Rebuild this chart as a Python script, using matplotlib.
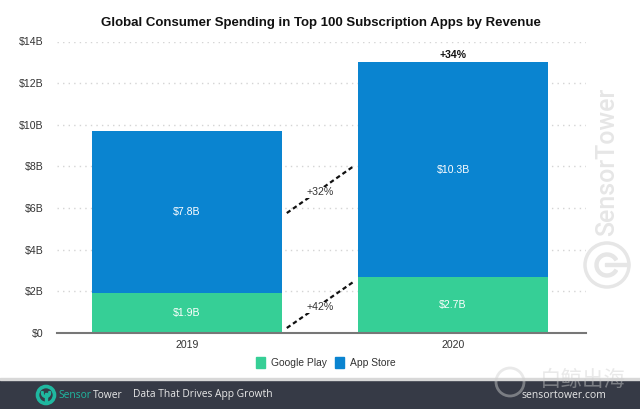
import matplotlib
matplotlib.use("Agg")
import matplotlib.pyplot as plt
from matplotlib.patches import Circle, Rectangle, Wedge

years = ["2019", "2020"]
google_play = [1.9, 2.7]
app_store = [7.8, 10.3]
google_labels = ["$1.9B", "$2.7B"]
store_labels = ["$7.8B", "$10.3B"]
y_ticks = [0, 2, 4, 6, 8, 10, 12, 14]
y_tick_labels = ["$0", "$2B", "$4B", "$6B", "$8B", "$10B", "$12B", "$14B"]

# growth connectors between the bars: label, start value, end value
store_growth = ("+32%", 5.76, 8.0)
google_growth = ("+42%", 0.24, 2.45)
total_growth = "+34%"

GREEN = "#36cf96"
BLUE = "#0a84d0"
TEAL = "#1fb8a0"
W, H = 640, 409
TEXT = "#333333"

plt.rcParams["font.family"] = ["Liberation Sans", "DejaVu Sans"]
plt.rcParams["text.parse_math"] = False

fig = plt.figure(figsize=(W / 100, H / 100), dpi=100)

# page level overlay in pixel coordinates, for watermark and footer
overlay = fig.add_axes([0, 0, 1, 1], zorder=0)
overlay.set_xlim(0, W)
overlay.set_ylim(H, 0)
overlay.axis("off")

ax = fig.add_axes([57 / W, 1 - 333 / H, 529 / W, 291.5 / H], zorder=1)
ax.patch.set_alpha(0)

x = range(len(years))
ax.bar(x, google_play, width=0.714, color=GREEN, zorder=2)
ax.bar(x, app_store, width=0.714, bottom=google_play, color=BLUE, zorder=2)

for i in x:
    ax.text(i, google_play[i] / 2, google_labels[i], color="white", fontsize=7.6,
            ha="center", va="center", zorder=3)
    ax.text(i, google_play[i] + app_store[i] / 2, store_labels[i], color="white", fontsize=7.6,
            ha="center", va="center", zorder=3)

for label, y0, y1 in [store_growth, google_growth]:
    ax.plot([0.375, 0.625], [y0, y1], color="#111111", lw=1.6, ls=(0, (2, 1.4)), zorder=3)
    ax.text(0.5, (y0 + y1) / 2 - 0.12, label, color=TEXT, fontsize=7.6, ha="center", va="center",
            bbox=dict(facecolor="white", edgecolor="none", pad=0.3), zorder=4)

ax.text(1, google_play[1] + app_store[1] + 0.1, total_growth, color="#111111", fontsize=7.6,
        fontweight="bold", ha="center", va="bottom", zorder=3)

ax.set_xlim(-0.489, 1.5)
ax.set_ylim(0, 14)
ax.set_xticks(list(x), years)
ax.set_yticks(y_ticks, y_tick_labels)
ax.tick_params(length=0, labelsize=7.6, labelcolor=TEXT)
ax.tick_params(axis="y", pad=10)
ax.tick_params(axis="x", pad=5)
ax.grid(axis="y", color="#d4d4d4", lw=1, ls=(0, (1, 3)), zorder=0)
ax.set_axisbelow(True)
for side in ["top", "right", "left"]:
    ax.spines[side].set_visible(False)
ax.spines["bottom"].set_color("#777777")
ax.spines["bottom"].set_linewidth(1.5)
ax.spines["bottom"].set_zorder(5)

overlay.text(321, 23, "Global Consumer Spending in Top 100 Subscription Apps by Revenue",
             fontsize=9.5, fontweight="bold", color="#111111", ha="center", va="center")

# legend
overlay.add_patch(Rectangle((256, 357), 9, 11, color=GREEN))
overlay.text(271, 363, "Google Play", fontsize=7.4, color=TEXT, va="center")
overlay.add_patch(Rectangle((335, 357), 9, 11, color=BLUE))
overlay.text(350, 363, "App Store", fontsize=7.4, color=TEXT, va="center")

# side watermark
WM = "#e6e6e6"
overlay.text(607, 162, "SensorTower", rotation=90, fontsize=18, color=WM, ha="center", va="center",
             family="Roboto", fontweight="medium")
overlay.add_patch(Circle((607, 265), 22, fill=False, ec=WM, lw=2.5))
overlay.add_patch(Wedge((607, 265), 12, 30, 330, width=3, color=WM))
overlay.add_patch(Rectangle((605, 263), 24, 3, color=WM))

# footer
FOOT = "#e8e8e8"
overlay.add_patch(Rectangle((0, 379), W, 30, color="#363a46", zorder=1))
overlay.add_patch(Rectangle((0, 378), W, 1.5, color="#d8d8d8", zorder=1))
overlay.add_patch(Circle((46, 395), 8.5, fill=False, ec=TEAL, lw=2.6, zorder=2))
overlay.add_patch(Wedge((46, 393), 4.5, -20, 200, width=1.6, color=TEAL, zorder=2))
overlay.add_patch(Rectangle((45, 393), 2, 9, color=TEAL, zorder=2))
overlay.text(58, 395, "Sensor", fontsize=7.4, color=TEAL, va="center", family="Open Sans", zorder=2)
overlay.text(93, 395, "Tower", fontsize=7.4, color=FOOT, va="center", family="Open Sans", zorder=2)
overlay.text(133, 395, "Data That Drives App Growth", fontsize=7.4, color=FOOT, va="center",
             family="Open Sans", zorder=2)
overlay.text(606, 396, "sensortower.com", fontsize=7.5, color=FOOT, va="center", ha="right",
             family="Open Sans", zorder=2)

# faint stamp across the footer edge
STAMP = "#cfcfcf"
overlay.add_patch(Circle((510, 382), 14, fill=False, ec=STAMP, lw=2, alpha=0.45, zorder=3))
overlay.text(583, 380, "白鲸出海", fontsize=15.5, color=STAMP, alpha=0.45, ha="center", va="center",
             family="Noto Sans CJK SC", zorder=3)

fig.savefig("out.png", dpi=100)
